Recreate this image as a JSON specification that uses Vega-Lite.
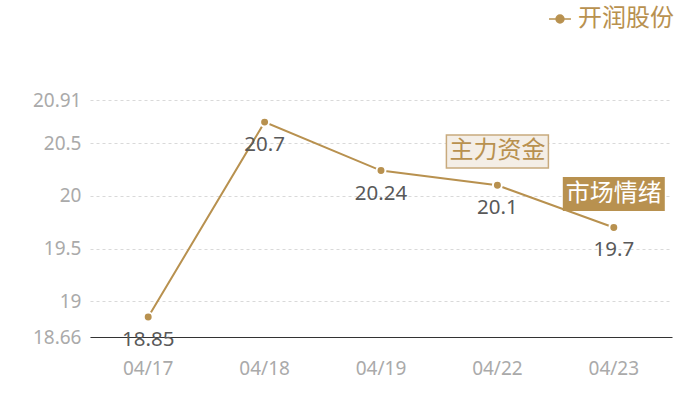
{
  "$schema": "https://vega.github.io/schema/vega-lite/v6.json",
  "width": 582,
  "height": 237,
  "autosize": "none",
  "padding": {"left": 90, "top": 100, "right": 28, "bottom": 63},
  "background": "white",
  "config": {"font": "Noto Sans", "view": {"stroke": null}},
  "datasets": {
    "price": [
      {"date": "04/17", "value": 18.85, "stock": "开润股份"},
      {"date": "04/18", "value": 20.7, "stock": "开润股份"},
      {"date": "04/19", "value": 20.24, "stock": "开润股份"},
      {"date": "04/22", "value": 20.1, "stock": "开润股份"},
      {"date": "04/23", "value": 19.7, "stock": "开润股份"}
    ],
    "tags": [
      {"date": "04/22", "low": 20.265, "high": 20.578, "mid": 20.425, "label": "主力资金", "kind": "fund"},
      {"date": "04/23", "low": 19.857, "high": 20.179, "mid": 20.02, "label": "市场情绪", "kind": "mood"}
    ]
  },
  "encoding": {
    "x": {
      "field": "date",
      "type": "ordinal",
      "scale": {"type": "band", "paddingInner": 0, "paddingOuter": 0, "domain": ["04/17", "04/18", "04/19", "04/22", "04/23"]},
      "axis": {
        "title": null,
        "labelAngle": 0,
        "labelColor": "#aaaaaa",
        "labelFontSize": 19,
        "labelPadding": 22,
        "ticks": false,
        "domainColor": "#333333",
        "grid": false
      }
    }
  },
  "layer": [
    {
      "data": {"name": "price"},
      "mark": {"type": "line", "strokeWidth": 2},
      "encoding": {
        "y": {
          "field": "value",
          "type": "quantitative",
          "scale": {"domain": [18.66, 20.91], "nice": false, "zero": false},
          "axis": {
            "title": null,
            "values": [18.66, 19, 19.5, 20, 20.5, 20.91],
            "labelExpr": "'' + datum.value",
            "labelColor": "#aaaaaa",
            "labelFontSize": 19,
            "labelPadding": 9,
            "ticks": false,
            "domain": false,
            "gridDash": [3, 3],
            "gridColor": "#d9d9d9"
          }
        },
        "color": {
          "field": "stock",
          "type": "nominal",
          "scale": {"range": ["#b8914f"]},
          "legend": {
            "title": null,
            "orient": "none",
            "legendX": 458,
            "legendY": -93,
            "symbolType": "M-1,0H1M0.36,0A0.36,0.36,0,1,1,-0.36,0A0.36,0.36,0,1,1,0.36,0",
            "symbolSize": 480,
            "symbolStrokeWidth": 1.5,
            "symbolFillColor": "#b8914f",
            "labelFontSize": 24,
            "labelColor": "#b8914f",
            "labelFont": "Noto Sans CJK SC",
            "labelOffset": 6,
            "encode": {
              "symbols": {
                "update": {
                  "shape": {"value": "M-1,0H1M0.36,0A0.36,0.36,0,1,1,-0.36,0A0.36,0.36,0,1,1,0.36,0"},
                  "size": {"value": 480},
                  "fill": {"value": "#b8914f"},
                  "stroke": {"value": "#c9ab7e"},
                  "strokeWidth": {"value": 1.5},
                  "opacity": {"value": 1}
                }
              }
            }
          }
        }
      }
    },
    {
      "data": {"name": "price"},
      "mark": {"type": "point", "filled": true, "size": 80, "color": "#b8914f", "stroke": "white", "strokeWidth": 2, "opacity": 1},
      "encoding": {
        "y": {"field": "value", "type": "quantitative"}
      }
    },
    {
      "data": {"name": "price"},
      "mark": {"type": "text", "dy": 23, "fontSize": 20.5, "color": "#595959", "baseline": "middle"},
      "encoding": {
        "y": {"field": "value", "type": "quantitative"},
        "text": {"field": "value", "type": "quantitative", "format": "~g"}
      }
    },
    {
      "data": {"name": "tags"},
      "transform": [{"filter": "datum.kind === 'fund'"}],
      "mark": {"type": "bar", "width": 102, "fill": "#f4eee6", "stroke": "#c8aa7d", "strokeWidth": 1.5},
      "encoding": {
        "y": {"field": "low", "type": "quantitative"},
        "y2": {"field": "high"}
      }
    },
    {
      "data": {"name": "tags"},
      "transform": [{"filter": "datum.kind === 'mood'"}],
      "mark": {"type": "bar", "width": 102, "fill": "#b8914f"},
      "encoding": {
        "y": {"field": "low", "type": "quantitative"},
        "y2": {"field": "high"}
      }
    },
    {
      "data": {"name": "tags"},
      "transform": [{"filter": "datum.kind === 'fund'"}],
      "mark": {"type": "text", "font": "Noto Sans CJK SC", "fontSize": 24, "color": "#b8914f", "baseline": "middle"},
      "encoding": {
        "y": {"field": "mid", "type": "quantitative"},
        "text": {"field": "label"}
      }
    },
    {
      "data": {"name": "tags"},
      "transform": [{"filter": "datum.kind === 'mood'"}],
      "mark": {"type": "text", "font": "Noto Sans CJK SC", "fontSize": 24, "color": "white", "baseline": "middle"},
      "encoding": {
        "y": {"field": "mid", "type": "quantitative"},
        "text": {"field": "label"}
      }
    }
  ]
}
